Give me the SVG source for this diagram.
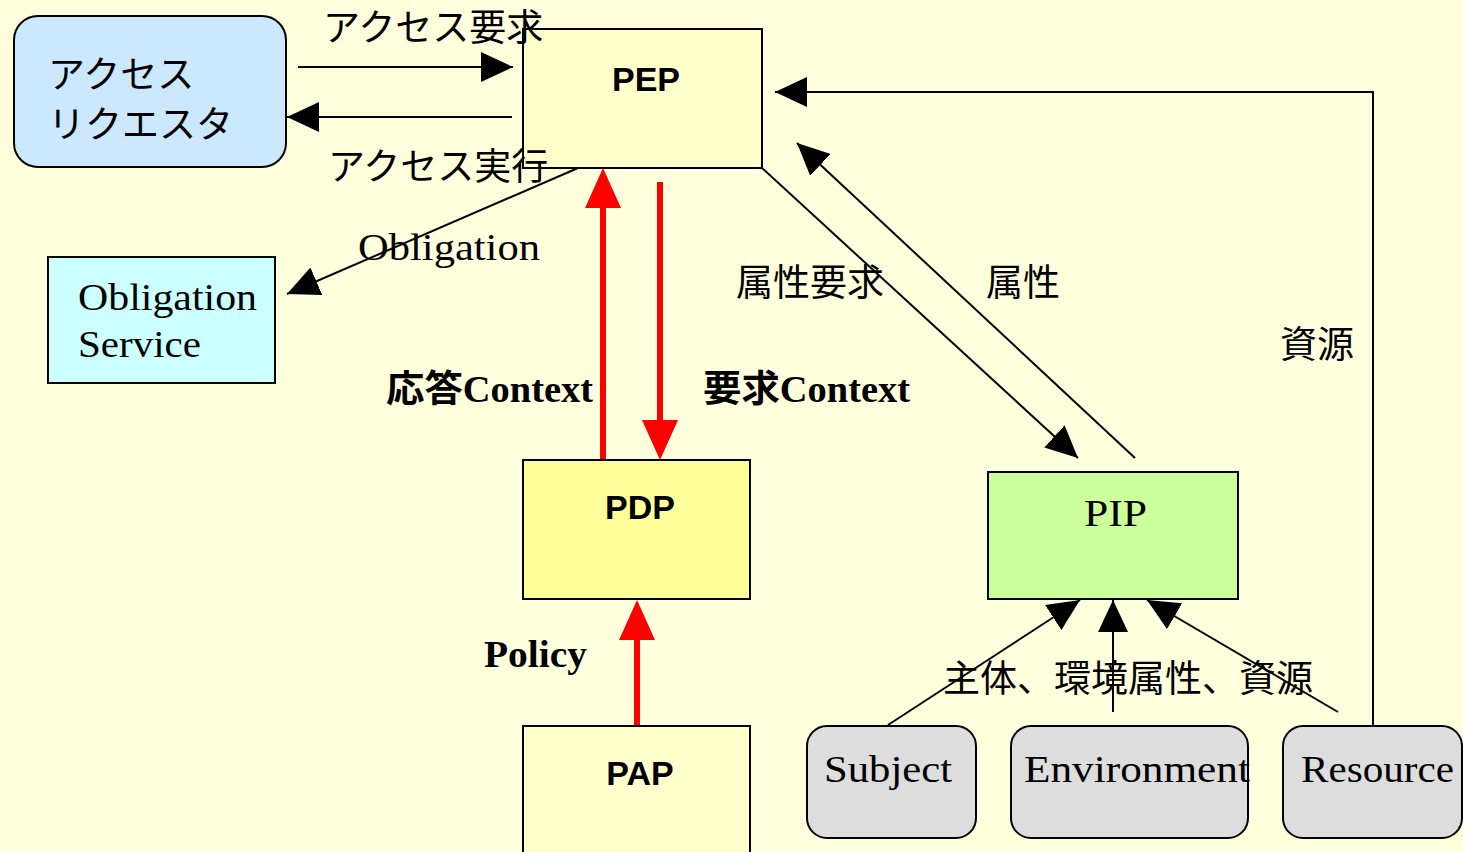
<svg xmlns="http://www.w3.org/2000/svg" width="1463" height="852" viewBox="0 0 1463 852">
  <style>
    .box { stroke: #000; stroke-width: 2; }
    .ln { fill: none; stroke: #000; stroke-width: 2; }
    .red { fill: none; stroke: #ff0000; stroke-width: 6; }
    .jp { font-family: 'Noto Sans CJK JP', 'Noto Sans', sans-serif; font-size: 37px; fill: #000; }
    .sans { font-family: 'Liberation Sans', Arial, sans-serif; font-weight: bold; font-size: 34px; fill: #000; }
    .serif { font-family: 'Liberation Serif', 'Times New Roman', serif; font-size: 38px; fill: #000; }
    .bold { font-family: 'Liberation Serif', 'Noto Sans CJK JP', serif; font-weight: bold; font-size: 37px; fill: #000; }
  </style>
  <defs>
    <marker id="ah" markerUnits="userSpaceOnUse" markerWidth="32" markerHeight="30" refX="32" refY="15" orient="auto">
      <path d="M0,0 L32,15 L0,30 Z" fill="#000"/>
    </marker>
    <marker id="rh" markerUnits="userSpaceOnUse" markerWidth="40" markerHeight="36" refX="0" refY="18" orient="auto">
      <path d="M0,0 L40,18 L0,36 Z" fill="#ff0000"/>
    </marker>
  </defs>

  <rect x="0" y="0" width="1463" height="852" fill="#ffffdd"/>

  <!-- connectors -->
  <g id="connectors">
    <line class="ln" x1="298" y1="67" x2="513" y2="67" marker-end="url(#ah)"/>
    <line class="ln" x1="512" y1="117" x2="287" y2="117" marker-end="url(#ah)"/>
    <line class="ln" x1="578" y1="168" x2="287" y2="294" marker-end="url(#ah)"/>
    <polyline class="ln" points="1373,726 1373,92 775,92" marker-end="url(#ah)"/>
    <line class="ln" x1="762" y1="168" x2="1078" y2="458" marker-end="url(#ah)"/>
    <line class="ln" x1="1135" y1="458" x2="797" y2="143" marker-end="url(#ah)"/>
    <line class="ln" x1="888" y1="725" x2="1080" y2="600" marker-end="url(#ah)"/>
    <line class="ln" x1="1113" y1="712" x2="1113" y2="600" marker-end="url(#ah)"/>
    <line class="ln" x1="1338" y1="712" x2="1147" y2="600" marker-end="url(#ah)"/>
    <line class="red" x1="603" y1="460" x2="603" y2="208" marker-end="url(#rh)"/>
    <line class="red" x1="660" y1="182" x2="660" y2="420" marker-end="url(#rh)"/>
    <line class="red" x1="637" y1="726" x2="637" y2="640" marker-end="url(#rh)"/>
  </g>

  <!-- nodes -->
  <g id="requester">
    <rect class="box" x="14" y="16" width="272" height="151" rx="24" fill="#cce8ff"/>
    <text class="jp" x="48" y="88">アクセス</text>
    <text class="jp" x="48" y="138">リクエスタ</text>
  </g>
  <g id="pep">
    <rect class="box" x="523" y="29" width="239" height="139" fill="#ffffcc"/>
    <text class="sans" x="646" y="91" text-anchor="middle">PEP</text>
  </g>
  <g id="obligation-service">
    <rect class="box" x="48" y="257" width="227" height="126" fill="#ccffff"/>
    <text class="serif" x="78" y="310" textLength="179" lengthAdjust="spacingAndGlyphs">Obligation</text>
    <text class="serif" x="78" y="357" textLength="123" lengthAdjust="spacingAndGlyphs">Service</text>
  </g>
  <g id="pdp">
    <rect class="box" x="523" y="460" width="227" height="139" fill="#ffff99"/>
    <text class="sans" x="640" y="519" text-anchor="middle">PDP</text>
  </g>
  <g id="pap">
    <rect class="box" x="523" y="726" width="227" height="140" fill="#ffffcc"/>
    <text class="sans" x="640" y="785" text-anchor="middle">PAP</text>
  </g>
  <g id="pip">
    <rect class="box" x="988" y="472" width="250" height="127" fill="#ccff99"/>
    <text class="serif" x="1084" y="526" textLength="63" lengthAdjust="spacingAndGlyphs">PIP</text>
  </g>
  <g id="subject">
    <rect class="box" x="807" y="726" width="169" height="112" rx="20" fill="#dddddd"/>
    <text class="serif" x="824" y="782" textLength="128" lengthAdjust="spacingAndGlyphs">Subject</text>
  </g>
  <g id="environment">
    <rect class="box" x="1011" y="726" width="237" height="112" rx="20" fill="#dddddd"/>
    <text class="serif" x="1024" y="782" textLength="226" lengthAdjust="spacingAndGlyphs">Environment</text>
  </g>
  <g id="resource">
    <rect class="box" x="1283" y="726" width="179" height="112" rx="20" fill="#dddddd"/>
    <text class="serif" x="1301" y="782" textLength="153" lengthAdjust="spacingAndGlyphs">Resource</text>
  </g>

  <!-- connector labels -->
  <g id="labels">
    <text class="jp" x="323" y="41">アクセス要求</text>
    <text class="jp" x="328" y="180">アクセス実行</text>
    <text class="serif" x="358" y="260" textLength="182" lengthAdjust="spacingAndGlyphs">Obligation</text>
    <text class="jp" x="736" y="296">属性要求</text>
    <text class="jp" x="986" y="296">属性</text>
    <text class="jp" x="1280" y="358">資源</text>
    <text class="bold" x="386" y="402" textLength="207" lengthAdjust="spacingAndGlyphs">応答Context</text>
    <text class="bold" x="703" y="402" textLength="207" lengthAdjust="spacingAndGlyphs">要求Context</text>
    <text class="bold" x="484" y="667" textLength="103" lengthAdjust="spacingAndGlyphs">Policy</text>
    <text class="jp" x="943" y="692">主体、環境属性、資源</text>
  </g>
</svg>
